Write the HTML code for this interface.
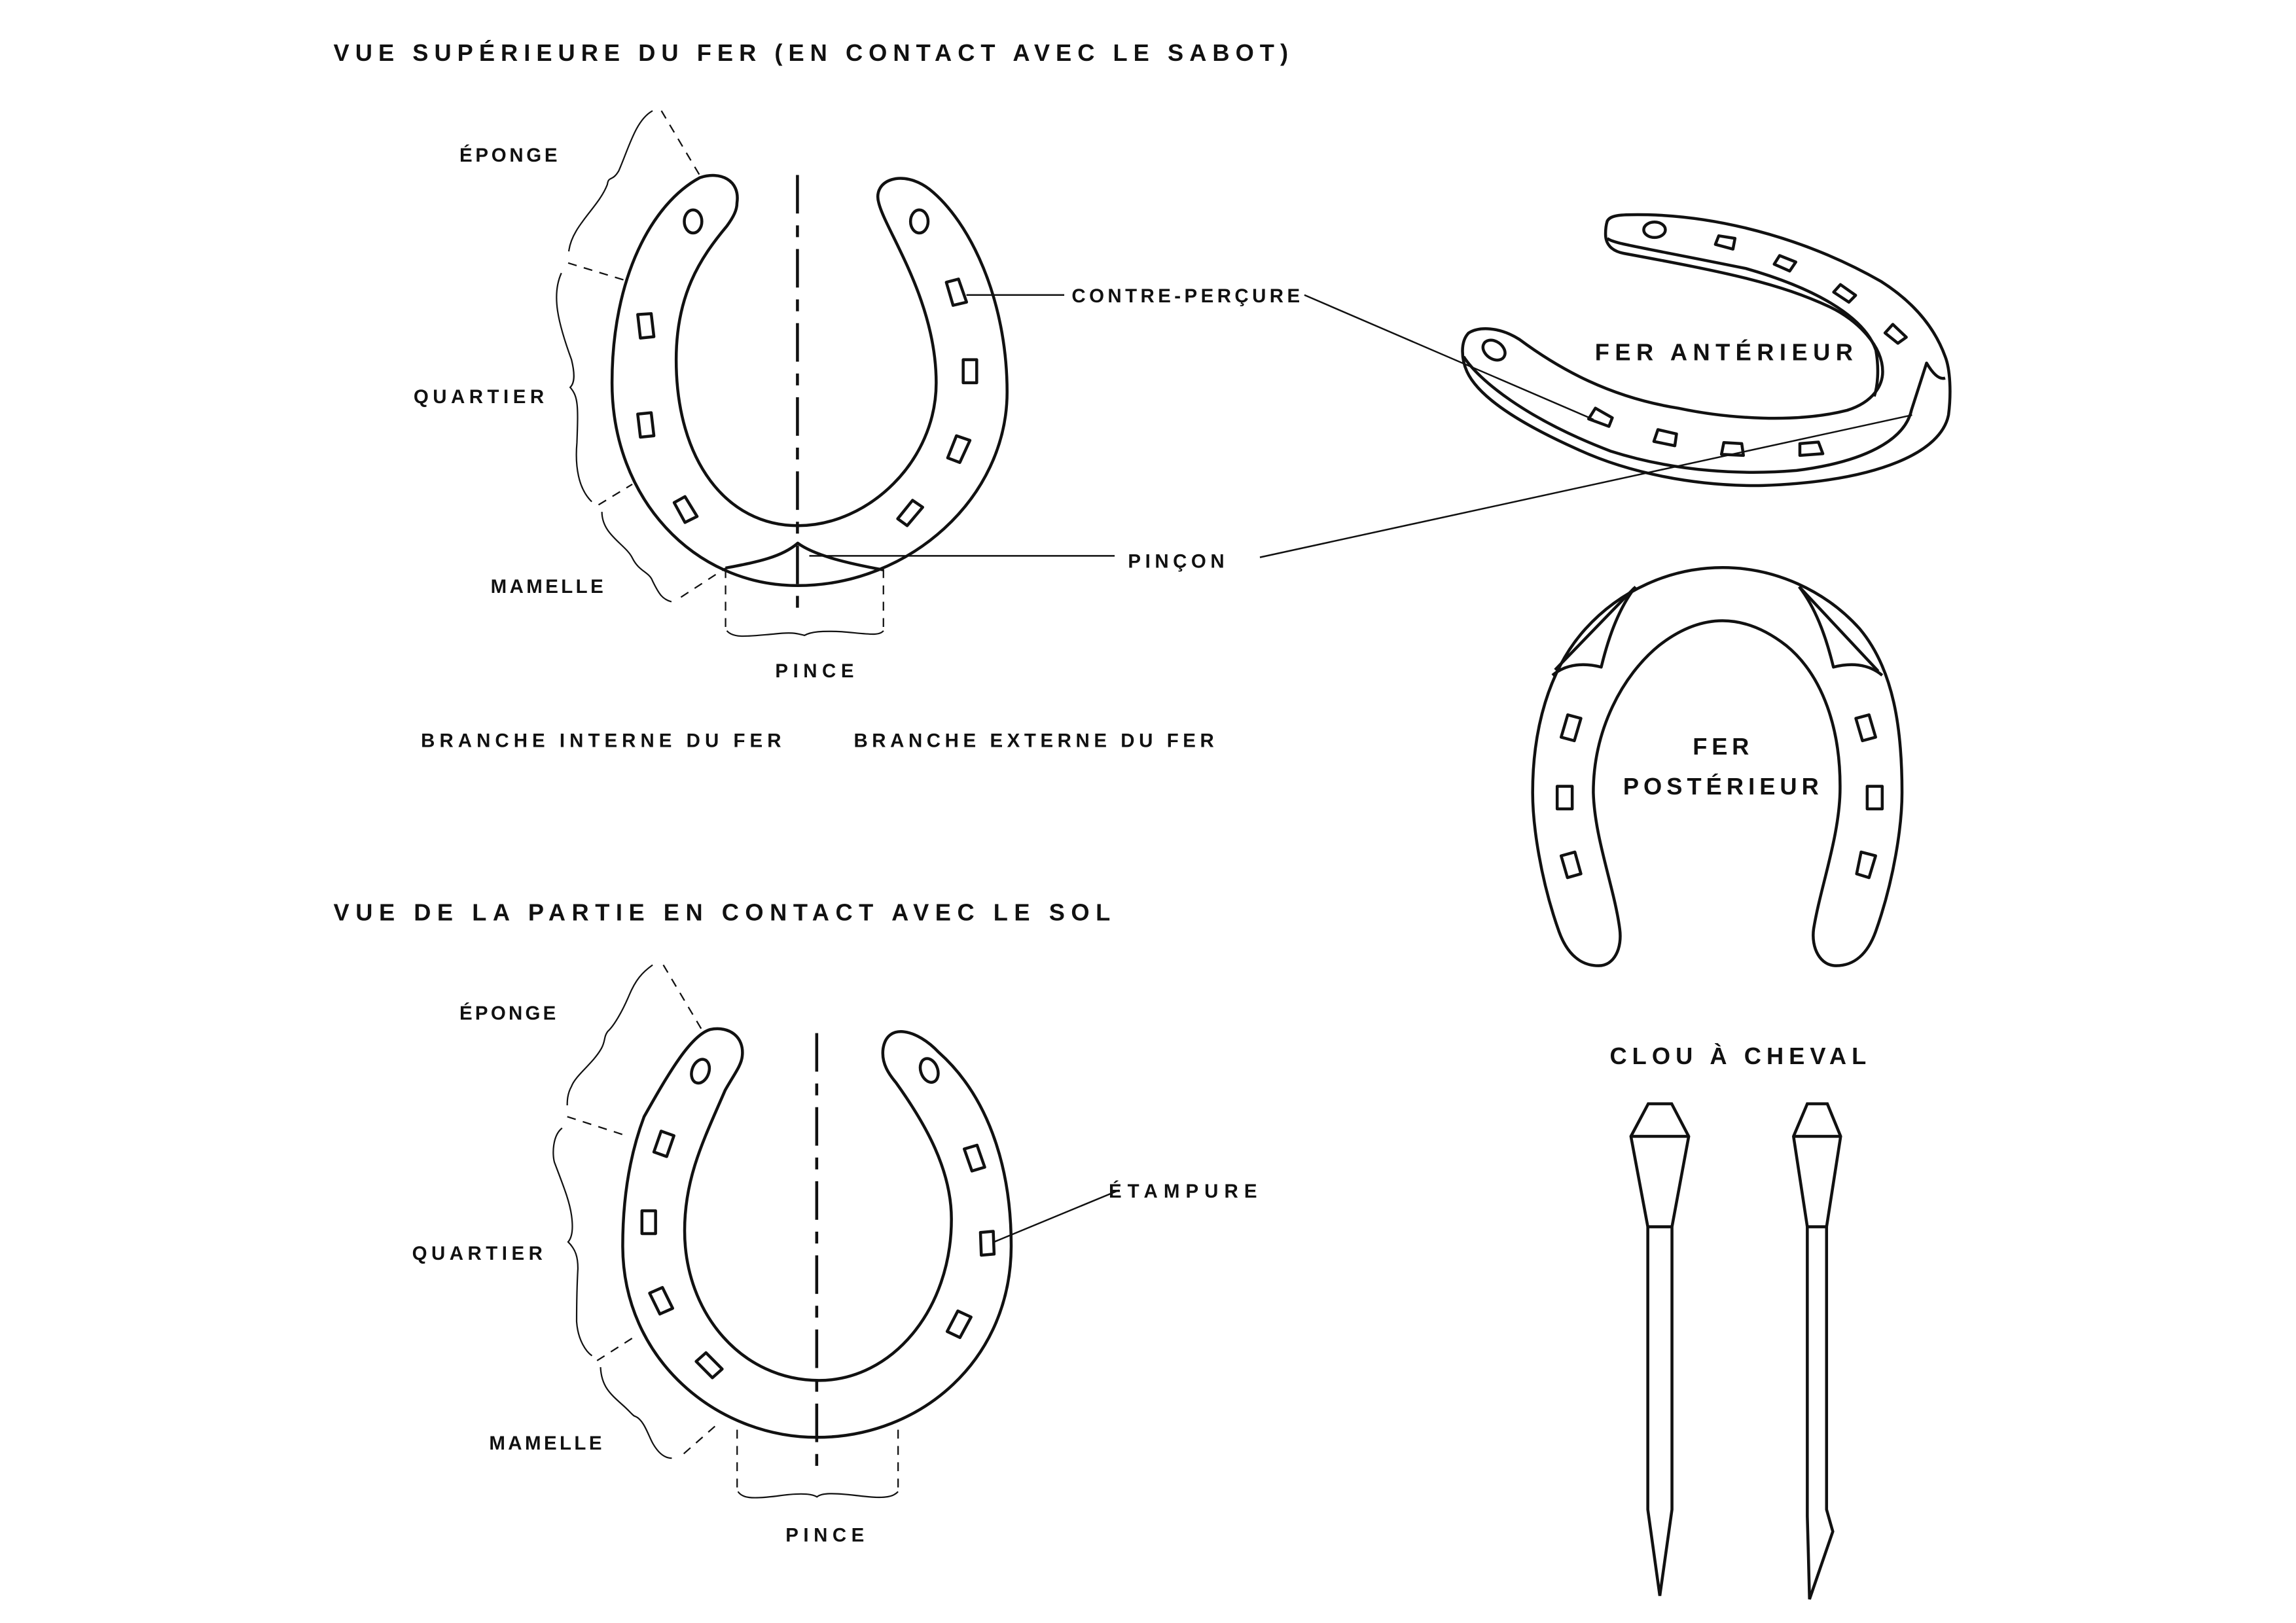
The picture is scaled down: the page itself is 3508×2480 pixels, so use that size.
<!DOCTYPE html>
<html><head><meta charset="utf-8"><style>
html,body{margin:0;padding:0;background:#fff}
svg{display:block}
text{font-family:"Liberation Sans",sans-serif;font-weight:bold;fill:#111}
.m{fill:none;stroke:#111;stroke-width:4.5;vector-effect:non-scaling-stroke;stroke-linejoin:round}
.t{fill:none;stroke:#111;stroke-width:2.2;vector-effect:non-scaling-stroke}
.d{fill:none;stroke:#111;stroke-width:1;stroke-dasharray:6 5}
.c{fill:none;stroke:#111;stroke-width:2;stroke-dasharray:26 8 8 8}
.l{fill:none;stroke:#111;stroke-width:1.1}
.n{fill:none;stroke:#111;stroke-width:2;stroke-linejoin:miter}
</style></head><body>
<svg width="3508" height="2480" viewBox="0 0 1549 1095" xmlns="http://www.w3.org/2000/svg">
<rect width="1549" height="1095" fill="#fff"/>

<!-- Titles -->
<text x="225" y="41" font-size="16" textLength="644" lengthAdjust="spacing">VUE SUPÉRIEURE DU FER (EN CONTACT AVEC LE SABOT)</text>
<text x="225" y="621" font-size="16" textLength="524" lengthAdjust="spacing">VUE DE LA PARTIE EN CONTACT AVEC LE SOL</text>

<!-- Top horseshoe -->
<g transform="translate(176,0.1) scale(0.4556,0.311)">
<path class="m" d="M 705,440 C 710,390 680,370 650,385 C 580,440 520,600 520,830 C 520,1080 640,1270 795,1270 C 960,1270 1105,1080 1105,850 C 1105,650 1050,480 990,410 C 950,365 905,390 915,440 C 925,500 1000,650 1000,830 C 1000,1000 900,1140 795,1140 C 690,1140 615,1000 615,780 C 615,640 650,560 690,490 C 700,470 705,455 705,440 Z"/>
<path class="m" d="M 688,1232 C 730,1220 770,1210 795,1178 C 820,1205 870,1222 922,1236"/>
<ellipse class="m" cx="640" cy="480" rx="13" ry="25"/>
<ellipse class="m" cx="975" cy="480" rx="13" ry="25"/>
<polygon class="m" points="558,682 578,680 582,730 562,733"/>
<polygon class="m" points="558,898 578,895 582,945 562,948"/>
<polygon class="m" points="612,1090 628,1077 646,1120 628,1133"/>
<polygon class="m" points="1015,612 1033,605 1045,655 1025,662"/>
<polygon class="m" points="1040,780 1060,780 1060,830 1040,830"/>
<polygon class="m" points="1030,945 1050,955 1035,1003 1017,993"/>
<polygon class="m" points="965,1085 980,1100 957,1140 943,1125"/>
<path class="t" d="M 580,240 C 555,260 545,320 530,370 C 520,395 515,380 513,400 C 500,450 460,490 456,545"/>
<path class="t" d="M 445,592 C 430,640 440,700 460,780 C 465,810 465,830 458,840 C 470,860 470,880 468,960 C 465,1010 470,1060 490,1088"/>
<path class="t" d="M 505,1110 C 505,1160 540,1180 550,1210 C 560,1240 575,1240 580,1260 C 590,1290 595,1300 608,1305"/>
<path class="t" d="M 690,1368 C 700,1385 720,1380 760,1375 C 790,1370 795,1375 805,1378 C 815,1370 830,1368 860,1370 C 900,1375 915,1380 922,1368"/>
</g>
<line class="c" x1="538" y1="118" x2="538" y2="414"/>
<line class="d" x1="446.2" y1="74.7" x2="472.1" y2="118.3"/>
<line class="d" x1="383.3" y1="177.4" x2="422" y2="189.2"/>
<line class="d" x1="403.8" y1="340.6" x2="426.6" y2="326.7"/>
<line class="d" x1="459.4" y1="402.9" x2="489.5" y2="383.3"/>
<line class="d" x1="489.5" y1="384" x2="489.5" y2="423"/>
<line class="d" x1="596" y1="384" x2="596" y2="423"/>

<text x="310" y="109" font-size="13" textLength="66" lengthAdjust="spacing">ÉPONGE</text>
<text x="279" y="272" font-size="13" textLength="88" lengthAdjust="spacing">QUARTIER</text>
<text x="331" y="400" font-size="13" textLength="76" lengthAdjust="spacing">MAMELLE</text>
<text x="523" y="457" font-size="13" textLength="53" lengthAdjust="spacing">PINCE</text>
<text x="723" y="204" font-size="13" textLength="154" lengthAdjust="spacing">CONTRE-PERÇURE</text>
<text x="761" y="383" font-size="13" textLength="65" lengthAdjust="spacing">PINÇON</text>
<text x="284" y="504" font-size="13" textLength="243" lengthAdjust="spacing">BRANCHE INTERNE DU FER</text>
<text x="576" y="504" font-size="13" textLength="243" lengthAdjust="spacing">BRANCHE EXTERNE DU FER</text>

<line class="l" x1="652" y1="199" x2="718" y2="199"/>
<line class="l" x1="880" y1="199" x2="1075" y2="283"/>
<line class="l" x1="546" y1="375" x2="752" y2="375"/>
<line class="l" x1="850" y1="376" x2="1290" y2="280"/>

<!-- Bottom horseshoe -->
<g transform="translate(264.6,640.8) scale(0.288,0.256)">
<path class="m" d="M 820,280 C 825,230 790,200 745,210 C 700,225 650,320 590,440 C 550,560 540,680 540,780 C 540,1080 760,1285 995,1285 C 1240,1285 1450,1080 1450,780 C 1450,560 1390,380 1280,270 C 1230,210 1160,190 1150,260 C 1145,300 1165,330 1180,350 C 1250,460 1310,580 1310,710 C 1310,950 1170,1135 1000,1135 C 820,1135 685,960 685,740 C 685,600 730,500 780,370 C 800,330 818,305 820,280 Z"/>
<ellipse class="m" cx="722" cy="320" rx="20" ry="32" transform="rotate(15 722 320)"/>
<ellipse class="m" cx="1258" cy="318" rx="20" ry="32" transform="rotate(-15 1258 318)"/>
<polygon class="m" points="630,478 660,490 643,545 613,533"/>
<polygon class="m" points="585,688 617,688 617,748 585,748"/>
<polygon class="m" points="603,905 633,890 657,945 627,960"/>
<polygon class="m" points="712,1085 735,1062 773,1105 750,1128"/>
<polygon class="m" points="1340,525 1370,515 1388,573 1358,583"/>
<polygon class="m" points="1378,745 1408,742 1410,802 1380,805"/>
<polygon class="m" points="1325,952 1356,968 1330,1022 1300,1006"/>
<path class="t" d="M 610,40 C 585,60 570,80 555,120 C 540,160 520,200 505,215 C 495,230 500,240 490,260 C 470,300 430,330 420,360 C 410,380 410,400 410,410"/>
<path class="t" d="M 398,470 C 375,490 375,540 380,560 C 400,620 415,660 420,700 C 425,740 420,760 412,770 C 430,790 435,810 435,840 C 432,900 432,950 432,980 C 435,1030 455,1060 468,1070"/>
<path class="t" d="M 488,1100 C 490,1150 510,1170 540,1200 C 560,1220 565,1230 570,1230 C 590,1240 600,1280 610,1300 C 625,1330 640,1340 655,1340"/>
<path class="t" d="M 810,1428 C 820,1445 840,1448 900,1440 C 960,1430 985,1435 995,1442 C 1005,1432 1030,1430 1100,1440 C 1160,1448 1175,1440 1185,1428"/>
</g>
<line class="c" x1="551" y1="697" x2="551" y2="996"/>
<line class="d" x1="447.5" y1="651" x2="473.4" y2="694.6"/>
<line class="d" x1="382.7" y1="753.4" x2="422.4" y2="766.2"/>
<line class="d" x1="402.8" y1="918" x2="427.3" y2="902.4"/>
<line class="d" x1="461.3" y1="980.8" x2="483.5" y2="961.3"/>
<line class="d" x1="497.3" y1="964.6" x2="497.3" y2="1004.3"/>
<line class="d" x1="605.9" y1="964.6" x2="605.9" y2="1004.3"/>
<line class="l" x1="670.7" y1="837.9" x2="755" y2="803"/>

<text x="310" y="688" font-size="13" textLength="65" lengthAdjust="spacing">ÉPONGE</text>
<text x="278" y="850" font-size="13" textLength="88" lengthAdjust="spacing">QUARTIER</text>
<text x="330" y="978" font-size="13" textLength="76" lengthAdjust="spacing">MAMELLE</text>
<text x="530" y="1040" font-size="13" textLength="53" lengthAdjust="spacing">PINCE</text>
<text x="748" y="808" font-size="13" textLength="100" lengthAdjust="spacing">ÉTAMPURE</text>

<!-- Anterior shoe -->
<g transform="translate(984,126) scale(0.228,0.145)">
<path class="m" d="M 440,160 C 450,130 480,128 560,130 C 800,140 1050,260 1250,440 C 1350,540 1410,660 1440,790 C 1455,850 1458,960 1450,1060 C 1430,1230 1250,1370 900,1390 C 700,1395 500,1330 350,1220 C 180,1100 60,980 25,860 C 8,800 5,720 30,680 C 60,650 120,650 180,710 C 300,850 450,980 650,1030 C 800,1080 1000,1100 1150,1040 C 1230,1000 1255,920 1255,860 C 1255,740 1180,620 1100,560 C 950,450 800,400 490,310 C 455,300 435,270 435,220 C 435,190 437,175 440,160 Z"/>
<path class="m" d="M 440,240 C 460,265 520,275 850,380 C 1050,470 1200,600 1235,760 C 1245,850 1240,930 1230,975"/>
<path class="m" d="M 15,790 C 60,900 200,1080 450,1230 C 650,1330 850,1340 1000,1320 C 1200,1280 1320,1180 1340,1040 L 1385,820 C 1400,860 1420,900 1440,890"/>
<ellipse class="m" cx="580" cy="200" rx="32" ry="36"/>
<ellipse class="m" cx="105" cy="760" rx="30" ry="48" transform="rotate(-20 105 760)"/>
<polygon class="m" points="770,228 818,240 812,290 760,268"/>
<polygon class="m" points="950,320 998,350 980,392 934,360"/>
<polygon class="m" points="1130,455 1175,505 1155,537 1110,490"/>
<polygon class="m" points="1285,640 1325,700 1300,728 1262,680"/>
<polygon class="m" points="405,1030 455,1075 445,1115 385,1080"/>
<polygon class="m" points="590,1130 645,1150 640,1205 578,1185"/>
<polygon class="m" points="785,1190 838,1195 843,1250 778,1245"/>
<polygon class="m" points="1010,1195 1065,1188 1078,1242 1010,1250"/>
</g>
<text x="1076" y="243" font-size="16" textLength="174" lengthAdjust="spacing">FER ANTÉRIEUR</text>

<!-- Posterior shoe -->
<g transform="translate(1034,382) scale(0.178,0.184)">
<path class="m" d="M 330,1330 C 340,1400 310,1465 250,1465 C 180,1465 130,1420 100,1340 C 30,1150 0,950 0,830 C 0,600 60,380 200,230 C 330,90 520,5 720,5 C 920,5 1110,90 1240,230 C 1370,380 1400,600 1400,830 C 1400,950 1370,1150 1300,1340 C 1270,1420 1220,1465 1150,1465 C 1090,1465 1055,1400 1065,1330 C 1090,1180 1160,1000 1165,830 C 1170,600 1100,400 960,290 C 880,230 800,200 720,200 C 640,200 560,230 480,290 C 340,400 230,600 230,830 C 235,1000 310,1180 330,1330 Z"/>
<path class="m" d="M 75,400 C 130,355 200,355 260,370 C 290,250 330,150 390,75"/>
<path class="m" d="M 85,380 L 385,80"/>
<path class="m" d="M 1325,400 C 1270,355 1200,355 1140,370 C 1110,250 1070,150 1010,75"/>
<path class="m" d="M 1310,385 L 1015,80"/>
<polygon class="m" points="133,545 183,558 158,640 108,627"/>
<polygon class="m" points="93,807 150,807 150,890 93,890"/>
<polygon class="m" points="108,1062 160,1048 183,1128 132,1142"/>
<polygon class="m" points="1225,558 1275,545 1300,627 1250,640"/>
<polygon class="m" points="1268,807 1325,807 1325,890 1268,890"/>
<polygon class="m" points="1245,1048 1300,1062 1275,1142 1228,1128"/>
</g>
<text x="1142" y="509" font-size="16" textLength="38" lengthAdjust="spacing">FER</text>
<text x="1095" y="536" font-size="16" textLength="132" lengthAdjust="spacing">POSTÉRIEUR</text>

<!-- Nails -->
<text x="1086" y="718" font-size="16" textLength="173" lengthAdjust="spacing">CLOU À CHEVAL</text>
<g>
<polygon class="n" points="1112,744.7 1127.8,744.7 1139.3,766.7 1128,827.7 1128,1018.5 1119.8,1076.7 1111.7,1018.5 1111.7,827.7 1100.3,766.7"/>
<line class="n" x1="1100.3" y1="766.7" x2="1139.3" y2="766.7"/>
<line class="n" x1="1111.7" y1="827.7" x2="1128" y2="827.7"/>
</g>
<g>
<polygon class="n" points="1219.3,744.7 1232.8,744.7 1241.8,766.7 1232.3,827.7 1232.3,1018.5 1236.5,1033.3 1220.8,1079 1220,1048 1219.3,1023 1219.3,827.7 1210,766.7"/>
<line class="n" x1="1210" y1="766.7" x2="1241.8" y2="766.7"/>
<line class="n" x1="1219.3" y1="827.7" x2="1232.3" y2="827.7"/>
</g>
</svg>
</body></html>
